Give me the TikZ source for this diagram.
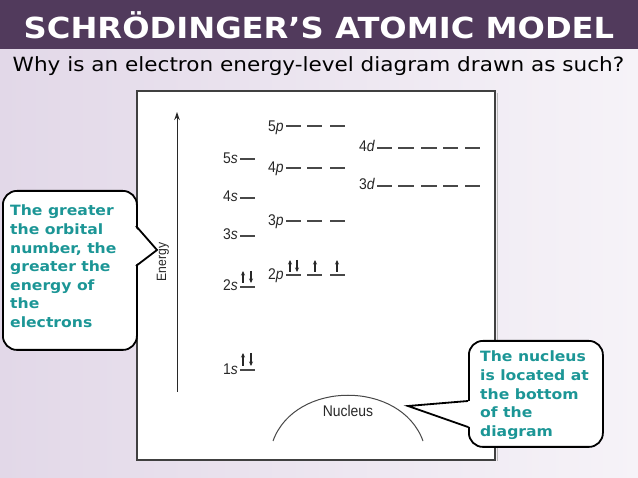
\documentclass[tikz,border=0pt]{standalone}
\usepackage{fontspec}
\setmainfont{DejaVu Sans}
\newfontfamily\titlefont[FakeStretch=1.11]{DejaVu Sans}
\newfontfamily\subfont[FakeStretch=1.1]{DejaVu Sans}
\newfontfamily\callfont[FakeStretch=1.1]{DejaVu Sans}
\newfontfamily\diagfont[FakeStretch=0.9]{Liberation Sans}
\usetikzlibrary{arrows.meta}
\definecolor{band}{RGB}{81,58,92}
\definecolor{lavL}{RGB}{226,216,232}
\definecolor{lavR}{RGB}{246,243,248}
\definecolor{calltext}{RGB}{28,150,150}
\definecolor{ink}{RGB}{40,40,40}
\tikzset{
  lvl/.style={draw=ink!85, line width=1.3pt},
  lbl/.style={font=\diagfont\fontsize{15.5}{15.5}\selectfont, text=ink, anchor=base west, inner sep=0pt},
  spin/.style={draw=ink, line width=1.1pt, -{Stealth[length=4.5pt,width=4pt]}},
  callbox/.style={draw=black, line width=1.8pt, fill=white, rounded corners=14pt},
  callline/.style={draw=black, line width=1.8pt, line join=miter},
  calltxt/.style={font=\callfont\bfseries\fontsize{14.2}{18.6}\selectfont, text=calltext, align=left, anchor=north west, inner sep=0pt},
}
\begin{document}
\begin{tikzpicture}[x=1pt,y=-1pt]
\useasboundingbox (0,0) rectangle (638,478);
% background
\fill[left color=lavL, right color=lavR] (0,0) rectangle (638,478);
\fill[band] (0,0) rectangle (638,49);
\node[text=white, font=\titlefont\bfseries\fontsize{29}{29}\selectfont] (title) at (319,25) {SCHRÖDINGER’S ATOMIC MODEL};
\node[text=black, font=\subfont\fontsize{19.6}{19.6}\selectfont] (sub) at (318.5,66) {Why is an electron energy-level diagram drawn as such?};
% diagram box
\draw[gray!55, line width=1.2pt] (497.5,93) -- (497.5,461);
\draw[fill=white, draw=black!75, line width=1.3pt] (137,91) rectangle (495,460);
% energy axis
\coordinate (ebot) at (177,392);
\coordinate (etop) at (177,112);
\draw[draw=ink, line width=1pt, -{Stealth[length=8pt,width=5.5pt]}] (ebot) -- (etop);
\node[font=\diagfont\fontsize{13.5}{13.5}\selectfont, text=ink, rotate=90] (energy) at (163,262) {Energy};
% s levels
\foreach \y/\b/\n in {370/375/1, 287/291/2, 236/240/3, 198/202/4, 159/164/5} {
  \node[lbl] (s\n) at (223,\b) {\n\textit{s}};
  \draw[lvl] (240,\y) -- (255,\y);
}
% p levels
\foreach \y/\b/\n in {275/280/2, 221/226/3, 168/173/4, 126/132/5} {
  \node[lbl] (p\n) at (268,\b) {\n\textit{p}};
  \foreach \a/\c in {286/301, 307/322, 330/345} \draw[lvl] (\a,\y) -- (\c,\y);
}
% d levels
\foreach \y/\b/\n in {186/190/3, 148/152/4} {
  \node[lbl] (d\n) at (359,\b) {\n\textit{d}};
  \foreach \a/\c in {377/392, 398/414, 421/437, 443/458, 465/480} \draw[lvl] (\a,\y) -- (\c,\y);
}
% electrons
\draw[spin] (243,366) -- (243,353);
\draw[spin] (251,353) -- (251,366);
\draw[spin] (243,283) -- (243,271);
\draw[spin] (251,271) -- (251,283);
\draw[spin] (290,272) -- (290,260);
\draw[spin] (297,260) -- (297,272);
\draw[spin] (315,272) -- (315,260);
\draw[spin] (337,272) -- (337,260);
% nucleus
\draw[draw=ink!85, line width=1pt] (273,441) .. controls (295,380) and (401,380) .. (423,441);
\node[font=\diagfont\fontsize{15.5}{15.5}\selectfont, text=ink] (nucleus) at (348,411) {Nucleus};
% left callout
\node[callbox, minimum width=134pt, minimum height=159pt, anchor=north west, inner sep=0pt] (lbox) at (2,190) {};
\coordinate (ltip) at (157,250);
\fill[white] (134,226) -- (ltip) -- (134,266) -- cycle;
\draw[callline] (136,226) -- (ltip) -- (136,266);
\node[calltxt] (ltext) at (10,205) {The greater\\the orbital\\number, the\\greater the\\energy of\\the\\electrons};
% right callout
\node[callbox, minimum width=134pt, minimum height=106pt, anchor=north west, inner sep=0pt] (rbox) at (468,340) {};
\coordinate (rtip) at (408,406);
\fill[white] (470,401) -- (rtip) -- (470,427) -- cycle;
\draw[callline] (468,401) -- (rtip) -- (468,427);
\node[calltxt] (rtext) at (480,351) {The nucleus\\is located at\\the bottom\\of the\\diagram};
\end{tikzpicture}
\end{document}
